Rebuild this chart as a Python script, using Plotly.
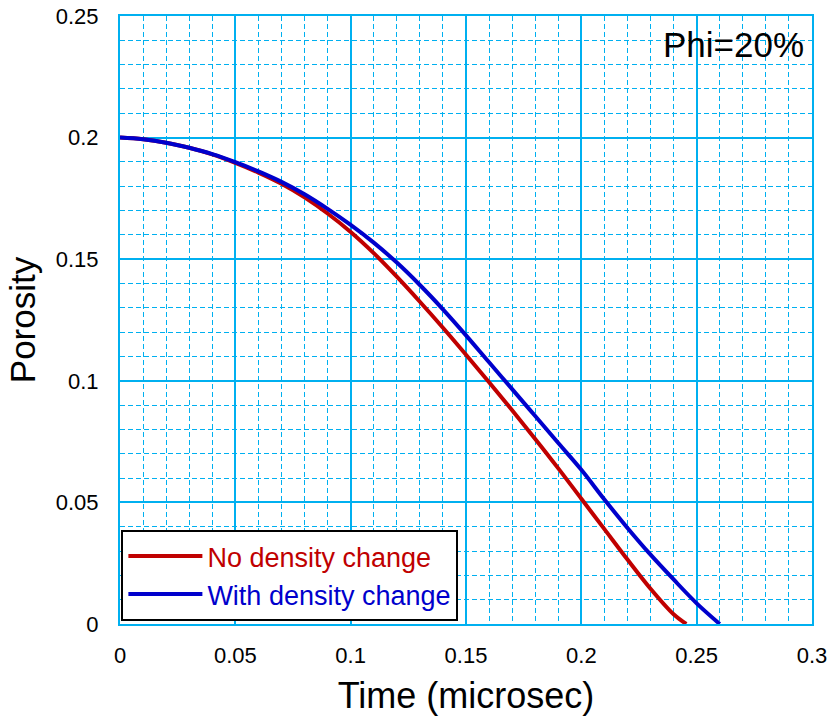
import plotly.graph_objects as go

# Time (microsec)
t_red = [0, 0.01, 0.02, 0.03, 0.04, 0.05, 0.06, 0.07, 0.08, 0.09, 0.10, 0.11, 0.12,
         0.13, 0.14, 0.15, 0.16, 0.17, 0.18, 0.19, 0.20, 0.21, 0.22, 0.23, 0.24, 0.2455]
phi_red = [0.2, 0.1993, 0.1979, 0.1958, 0.1931, 0.1896, 0.1856, 0.1810, 0.1754, 0.1688,
           0.1612, 0.1525, 0.1428, 0.1325, 0.1218, 0.1107, 0.0994, 0.0879, 0.0761, 0.0640,
           0.0515, 0.0390, 0.0265, 0.0145, 0.0040, 0.0]

t_blue = [0, 0.01, 0.02, 0.03, 0.04, 0.05, 0.06, 0.07, 0.08, 0.09, 0.10, 0.11, 0.12,
          0.13, 0.14, 0.15, 0.16, 0.17, 0.18, 0.19, 0.20, 0.21, 0.22, 0.23, 0.24, 0.25, 0.2600]
phi_blue = [0.2, 0.1993, 0.1979, 0.1958, 0.1932, 0.1899, 0.1861, 0.1818, 0.1767, 0.1707,
            0.1641, 0.1568, 0.1486, 0.1394, 0.1294, 0.1187, 0.1076, 0.0966, 0.0855, 0.0744,
            0.0634, 0.0512, 0.0395, 0.0285, 0.0183, 0.0085, 0.0]

series_names = ["No density change", "With density change"]
series_colors = ["#C00000", "#0000CC"]
x_ticks = [0, 0.05, 0.1, 0.15, 0.2, 0.25, 0.3]
x_labels = ["0", "0.05", "0.1", "0.15", "0.2", "0.25", "0.3"]
y_ticks = [0, 0.05, 0.1, 0.15, 0.2, 0.25]
y_labels = ["0", "0.05", "0.1", "0.15", "0.2", "0.25"]

FONT = "Liberation Sans, Arial, sans-serif"
GRID = "rgb(0,176,240)"

fig = go.Figure()
for xs, ys, name, col in [(t_red, phi_red, series_names[0], series_colors[0]),
                          (t_blue, phi_blue, series_names[1], series_colors[1])]:
    fig.add_trace(go.Scatter(
        x=xs, y=ys, mode="lines", line=dict(color=col, width=4, shape="spline", smoothing=1),
        name=f"<span style='color:{col}'>{name}</span>"))

axis_common = dict(
    showline=True, linecolor=GRID, linewidth=2, mirror=True,
    showgrid=True, gridcolor=GRID, gridwidth=1.5,
    zeroline=False, ticks="", automargin=False,
    tickfont=dict(family=FONT, size=22, color="black"),
)
minor_grid = dict(dtick=0.01, tick0=0, showgrid=True, gridcolor=GRID, gridwidth=1.2,
                  griddash="5px,3px", ticks="")

fig.update_xaxes(
    range=[0, 0.3], tickvals=x_ticks, ticktext=x_labels, minor=minor_grid,
    title=dict(text="Time (microsec)", font=dict(family=FONT, size=36, color="black"), standoff=15),
    ticklabelstandoff=11,
    **axis_common)
fig.update_yaxes(
    range=[0, 0.25], tickvals=y_ticks, ticktext=y_labels, minor=minor_grid,
    title=dict(text="Porosity", font=dict(family=FONT, size=35, color="black"), standoff=10),
    ticklabelstandoff=15,
    **axis_common)

fig.add_annotation(
    text="Phi=20%", xref="paper", yref="paper", x=0.991, y=0.953,
    xanchor="right", yanchor="middle", showarrow=False,
    font=dict(family=FONT, size=35, color="black"))

fig.update_layout(
    width=831, height=718,
    margin=dict(l=119.5, r=18.5, t=16, b=94, autoexpand=False),
    paper_bgcolor="white", plot_bgcolor="white",
    showlegend=True,
    legend=dict(
        x=0.002, y=0.005, xanchor="left", yanchor="bottom",
        bgcolor="white", bordercolor="black", borderwidth=2,
        font=dict(family=FONT, size=27),
        tracegroupgap=0, itemwidth=74,
    ),
)

fig.write_html("out.html")
